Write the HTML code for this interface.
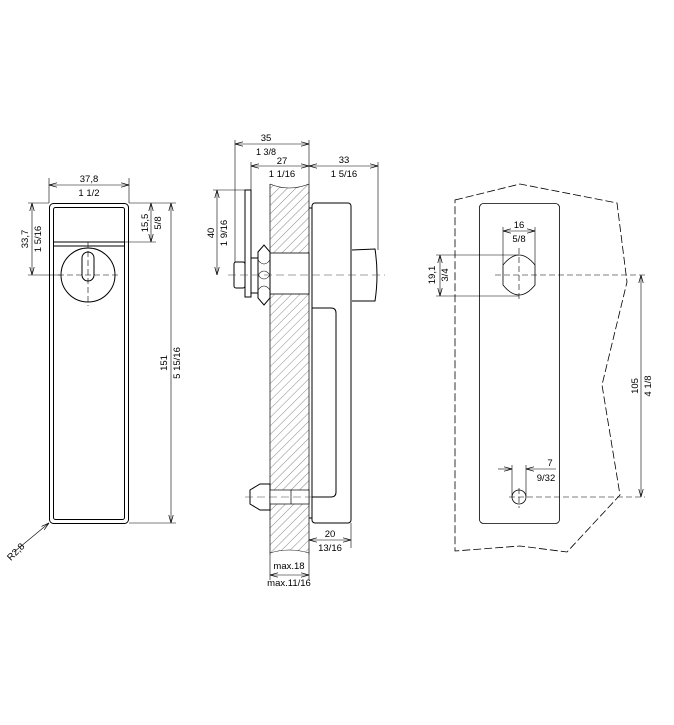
<!DOCTYPE html>
<html><head><meta charset="utf-8"><style>
html,body{margin:0;padding:0;background:#fff}
svg{display:block}
text{font-family:"Liberation Sans",sans-serif;font-size:9.5px;fill:#000}
</style></head><body>
<svg width="674" height="725" viewBox="0 0 674 725" xmlns="http://www.w3.org/2000/svg">
<defs>
<pattern id="h" width="6" height="6" patternUnits="userSpaceOnUse" patternTransform="rotate(45)">
<line x1="0" y1="0" x2="0" y2="6" stroke="#555" stroke-width="0.7"/>
</pattern>
<marker id="a" markerWidth="8" markerHeight="6" refX="8" refY="3" orient="auto-start-reverse" markerUnits="userSpaceOnUse">
<path d="M0,0.8 L8,3 L0,5.2" fill="none" stroke="#000" stroke-width="0.7"/>
</marker>
</defs>
<g fill="none" stroke="#000" stroke-width="1">
<!-- LEFT VIEW -->
<rect x="49.5" y="203.5" width="79" height="320" rx="4"/>
<rect x="53.5" y="207.5" width="71" height="312" rx="2"/>
<line x1="53" y1="242" x2="125" y2="242"/>
<line x1="53" y1="246" x2="125" y2="246"/>
<circle cx="88" cy="275" r="27"/>
<rect x="82" y="252" width="12" height="29" rx="6"/>
<g stroke-width="0.6" stroke-dasharray="6,3">
<line x1="88" y1="242" x2="88" y2="306"/>
<line x1="58" y1="275" x2="120" y2="275"/>
</g>
<g stroke-width="0.6">
<line x1="49" y1="178" x2="49" y2="203"/><line x1="129" y1="178" x2="129" y2="203"/>
<line x1="49" y1="185" x2="129" y2="185" marker-start="url(#a)" marker-end="url(#a)"/>
<line x1="28" y1="203" x2="49" y2="203"/><line x1="28" y1="275" x2="60" y2="275"/>
<line x1="32" y1="203" x2="32" y2="275" marker-start="url(#a)" marker-end="url(#a)"/>
<line x1="129" y1="203" x2="176" y2="203"/><line x1="125" y1="242" x2="156" y2="242"/>
<line x1="151" y1="203" x2="151" y2="242" marker-start="url(#a)" marker-end="url(#a)"/>
<line x1="129" y1="523" x2="176" y2="523"/>
<line x1="171" y1="203" x2="171" y2="523" marker-start="url(#a)" marker-end="url(#a)"/>
<line x1="49" y1="523" x2="14" y2="552" marker-start="url(#a)"/>
</g>
</g>
<text x="89" y="182" text-anchor="middle">37,8</text>
<text x="89" y="196" text-anchor="middle">1 1/2</text>
<text transform="translate(28,239) rotate(-90)" text-anchor="middle">33,7</text>
<text transform="translate(41,239) rotate(-90)" text-anchor="middle">1 5/16</text>
<text transform="translate(148,223) rotate(-90)" text-anchor="middle">15,5</text>
<text transform="translate(161,223) rotate(-90)" text-anchor="middle">5/8</text>
<text transform="translate(167,363) rotate(-90)" text-anchor="middle">151</text>
<text transform="translate(180,363) rotate(-90)" text-anchor="middle">5 15/16</text>
<text transform="translate(18,554) rotate(-45)" text-anchor="middle">R2,8</text>

<!-- MIDDLE VIEW -->
<path d="M270,184 Q289,192 309,184 L309,553 Q289,547 270,553 Z" fill="url(#h)" stroke="none"/>
<g fill="none" stroke="#000" stroke-width="1">
<line x1="270" y1="184" x2="270" y2="555" stroke-width="0.7"/>
<line x1="309" y1="184" x2="309" y2="555" stroke-width="0.7"/>
<path d="M270,184 Q289,192 309,184" stroke-width="0.6"/>
<path d="M270,553 Q289,547 309,553" stroke-width="0.6"/>
<rect x="270" y="253" width="39" height="41" fill="#fff" stroke-width="0.8"/>
<rect x="245" y="190" width="6" height="107" fill="#fff"/>
<rect x="251" y="258" width="7" height="35" fill="#fff"/>
<path d="M258,252 L264,245 L270,252 L270,298 L264,305 L258,298 Z" fill="#fff"/>
<path d="M258,260 Q264,268 270,260 M258,290 Q264,282 270,290 M258,275 Q264,283 270,275 M258,275 Q264,267 270,275" stroke-width="0.6"/>
<rect x="234" y="262" width="11" height="26" rx="2" fill="#fff"/>
<rect x="312" y="203" width="39" height="320" rx="3" fill="#fff"/>
<path d="M309,208 L312,208 M309,518 L312,518"/>
<path d="M312,308 L331,308 Q336,308 336,313 L336,492 Q336,497 331,497 L312,497"/>
<path d="M352,250 L375,249 Q379,275 375,301 L352,301" fill="#fff"/>
<path d="M260,484 L270,484 L270,510 L260,510 L250,504 L250,490 Z" fill="#fff"/>
<rect x="270" y="490" width="39" height="14" fill="#fff" stroke-width="0.7"/>
<line x1="291" y1="490" x2="291" y2="504" stroke-width="0.7"/>
<g stroke-width="0.6" stroke-dasharray="8,4" stroke="#444">
<line x1="228" y1="275" x2="385" y2="275"/>
<line x1="245" y1="497" x2="312" y2="497"/>
</g>
<g stroke-width="0.6">
<line x1="235" y1="140" x2="235" y2="262"/><line x1="309" y1="140" x2="309" y2="184"/>
<line x1="235" y1="144" x2="309" y2="144" marker-start="url(#a)" marker-end="url(#a)"/>
<line x1="251" y1="162" x2="251" y2="190"/>
<line x1="251" y1="166" x2="309" y2="166" marker-start="url(#a)" marker-end="url(#a)"/>
<line x1="378" y1="162" x2="378" y2="250"/>
<line x1="309" y1="166" x2="378" y2="166" marker-start="url(#a)" marker-end="url(#a)"/>
<line x1="213" y1="190" x2="245" y2="190"/>
<line x1="217" y1="190" x2="217" y2="275" marker-start="url(#a)" marker-end="url(#a)"/>
<line x1="351" y1="523" x2="351" y2="548"/>
<line x1="309" y1="540" x2="351" y2="540" marker-start="url(#a)" marker-end="url(#a)"/>
<line x1="270" y1="555" x2="270" y2="580"/><line x1="309" y1="555" x2="309" y2="580"/>
<line x1="270" y1="575" x2="309" y2="575" marker-start="url(#a)" marker-end="url(#a)"/>
</g>
</g>
<text x="266" y="141" text-anchor="middle">35</text>
<text x="266" y="155" text-anchor="middle" style="font-size:9px">1 3/8</text>
<text x="282" y="164" text-anchor="middle">27</text>
<text x="282" y="177" text-anchor="middle">1 1/16</text>
<text x="344" y="163" text-anchor="middle">33</text>
<text x="344" y="177" text-anchor="middle">1 5/16</text>
<text transform="translate(214,233) rotate(-90)" text-anchor="middle">40</text>
<text transform="translate(227,233) rotate(-90)" text-anchor="middle">1 9/16</text>
<text x="330" y="537" text-anchor="middle">20</text>
<text x="330" y="551" text-anchor="middle">13/16</text>
<text x="289" y="569" text-anchor="middle">max.18</text>
<text x="289" y="586" text-anchor="middle">max.11/16</text>

<!-- RIGHT VIEW -->
<g fill="none" stroke="#000" stroke-width="0.8">
<path d="M455,200 L520,184 L617,203 L627,282 L602,385 L620,495 L567,552 L520,546 L455,551 Z" stroke-dasharray="8,3"/>
<rect x="479.5" y="203.5" width="80" height="320" rx="4"/>
<path d="M503,265 Q519,245 535,265 L535,285 Q519,305 503,285 Z"/>
<circle cx="519" cy="497" r="7"/>
<g stroke-width="0.6" stroke-dasharray="6,3">
<line x1="519" y1="248" x2="519" y2="302"/>
<line x1="495" y1="275" x2="645" y2="275"/>
<line x1="509" y1="497" x2="645" y2="497"/>
<line x1="519" y1="488" x2="519" y2="508"/>
</g>
<g stroke-width="0.6">
<line x1="503" y1="227" x2="503" y2="265"/><line x1="535" y1="227" x2="535" y2="265"/>
<line x1="503" y1="231" x2="535" y2="231" marker-start="url(#a)" marker-end="url(#a)"/>
<line x1="436" y1="255" x2="519" y2="255"/><line x1="436" y1="296" x2="519" y2="296"/>
<line x1="440" y1="255" x2="440" y2="296" marker-start="url(#a)" marker-end="url(#a)"/>
<line x1="641" y1="275" x2="641" y2="497" marker-start="url(#a)" marker-end="url(#a)"/>
<line x1="512" y1="465" x2="512" y2="497"/><line x1="526" y1="465" x2="526" y2="497"/>
<line x1="498" y1="469" x2="512" y2="469" marker-end="url(#a)"/>
<line x1="556" y1="469" x2="526" y2="469" marker-end="url(#a)"/>
</g>
</g>
<text x="519" y="228" text-anchor="middle">16</text>
<text x="519" y="242" text-anchor="middle">5/8</text>
<text transform="translate(435,275) rotate(-90)" text-anchor="middle">19,1</text>
<text transform="translate(448,275) rotate(-90)" text-anchor="middle">3/4</text>
<text transform="translate(638,386) rotate(-90)" text-anchor="middle">105</text>
<text transform="translate(651,386) rotate(-90)" text-anchor="middle">4 1/8</text>
<text x="550" y="466" text-anchor="middle">7</text>
<text x="546" y="481" text-anchor="middle">9/32</text>
</svg>
</body></html>
